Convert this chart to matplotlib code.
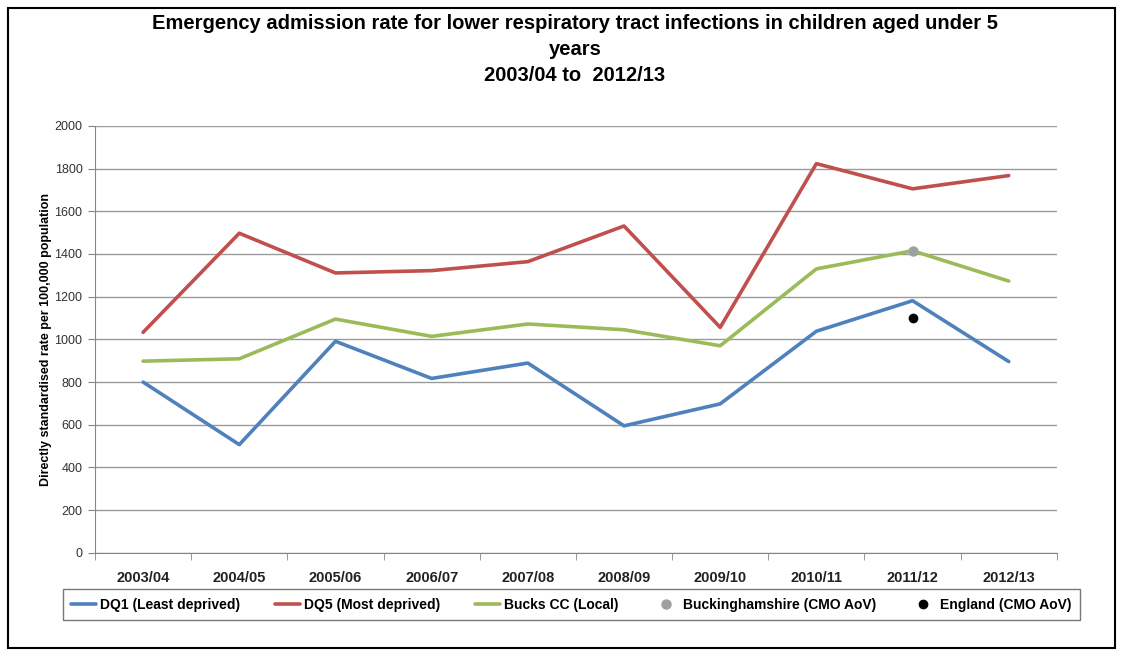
import numpy as np
import matplotlib.pyplot as plt
from matplotlib.patches import Rectangle

# ---- data ----
years = ['2003/04', '2004/05', '2005/06', '2006/07', '2007/08',
         '2008/09', '2009/10', '2010/11', '2011/12', '2012/13']
dq1 = [800, 507, 991, 817, 889, 595, 698, 1038, 1181, 896]
dq5 = [1033, 1497, 1311, 1322, 1364, 1531, 1056, 1823, 1705, 1767]
bucks = [898, 909, 1095, 1014, 1072, 1045, 970, 1330, 1415, 1273]
bucks_cmo = {'2011/12': 1412}
england_cmo = {'2011/12': 1100}

plt.rcParams['font.family'] = ['Liberation Sans', 'DejaVu Sans']

fig = plt.figure(figsize=(11.23, 6.52), dpi=100)
ax = fig.add_axes([0.0846, 0.152, 0.8565, 0.655])

x = np.arange(len(years))
ax.plot(x, dq1, color='#4F81BD', lw=2.6, label='DQ1 (Least deprived)', solid_capstyle='round')
ax.plot(x, dq5, color='#C0504D', lw=2.6, label='DQ5 (Most deprived)', solid_capstyle='round')
ax.plot(x, bucks, color='#9BBB59', lw=2.6, label='Bucks CC (Local)', solid_capstyle='round')

bx = [years.index(k) for k in bucks_cmo]
ax.plot(bx, list(bucks_cmo.values()), 'o', color='#A0A0A0', ms=6.5, zorder=5,
        label='Buckinghamshire (CMO AoV)')
ex = [years.index(k) for k in england_cmo]
ax.plot(ex, list(england_cmo.values()), 'o', color='black', ms=6, zorder=5,
        label='England (CMO AoV)')

ax.set_xlim(-0.5, len(years) - 0.5)
ax.set_ylim(0, 2000)
ax.set_yticks(range(0, 2001, 200))
ax.set_xticks(x)
ax.set_xticklabels(years, fontsize=10.5, fontweight='bold', color='#222222')
ax.set_xticks(np.arange(-0.5, len(years), 1), minor=True)
ax.tick_params(axis='x', which='major', length=0, pad=13)
ax.tick_params(axis='x', which='minor', length=5, color='#868686')
ax.tick_params(axis='y', length=5, color='#868686', labelsize=9, labelcolor='#333333', pad=4)

ax.grid(axis='y', color='#9A9A9A', lw=1)
ax.set_axisbelow(True)
for s in ['top', 'right']:
    ax.spines[s].set_visible(False)
for s in ['left', 'bottom']:
    ax.spines[s].set_color('#868686')

ax.set_ylabel('Directly standardised rate per 100,000 population',
              fontsize=9, fontweight='bold', labelpad=2)

fig.text(0.512, 0.978,
         'Emergency admission rate for lower respiratory tract infections in children aged under 5\nyears\n2003/04 to  2012/13',
         ha='center', va='top', fontsize=14.5, fontweight='bold', linespacing=1.45)

leg = fig.legend(loc='center', bbox_to_anchor=(0.5085, 0.0725), ncol=5, fontsize=10,
                 frameon=True, fancybox=False, edgecolor='#555555', borderpad=0.6,
                 columnspacing=2.5, handlelength=1.8, handletextpad=0.3,
                 borderaxespad=0)
for t in leg.get_texts():
    t.set_fontweight('bold')
leg.get_frame().set_linewidth(1)

# outer border
fig.patches.append(Rectangle((0.007, 0.006), 0.986, 0.982, transform=fig.transFigure,
                             fill=False, edgecolor='black', lw=1.5))

fig.savefig('out.png', dpi=100)
